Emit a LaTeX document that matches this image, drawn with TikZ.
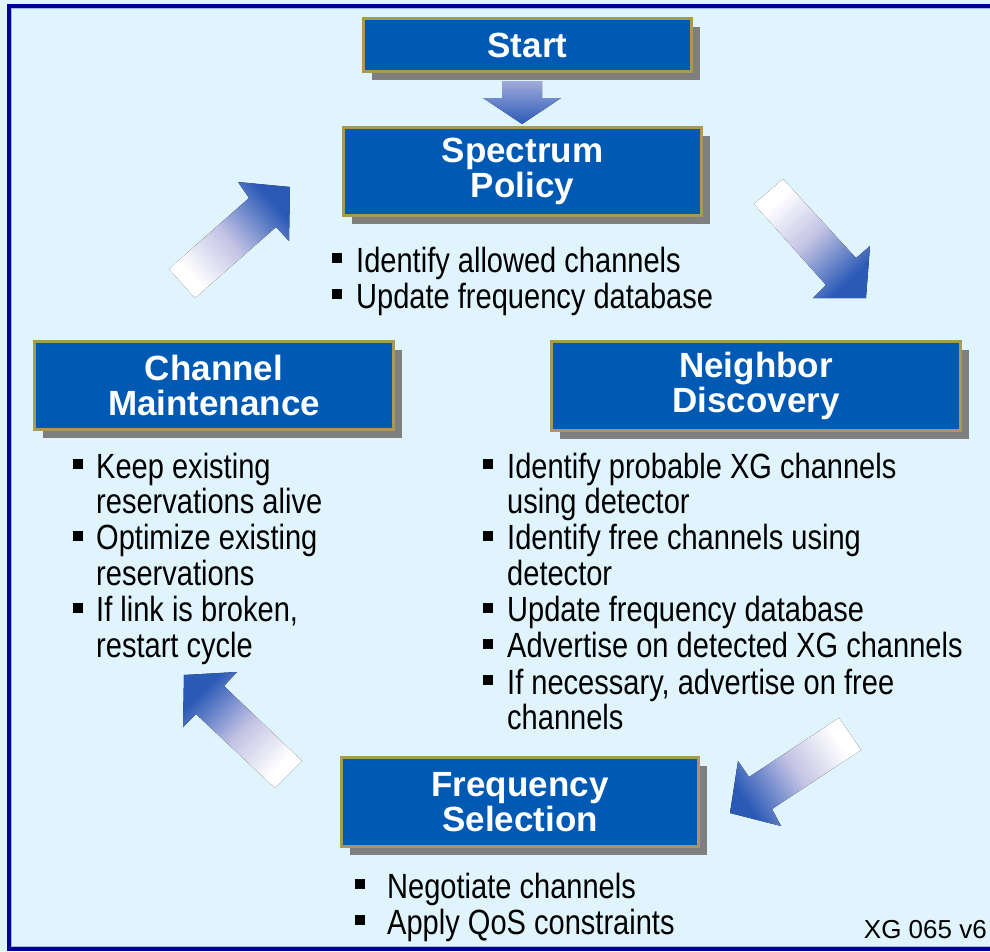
\documentclass[tikz,border=0pt]{standalone}
\usepackage{fontspec}
\setmainfont{Liberation Sans}
\newfontfamily\narrowfont{Liberation Sans}[FakeStretch=0.83]
\usetikzlibrary{shadows}
\definecolor{bgblue}{HTML}{E0F4FD}
\definecolor{framecol}{HTML}{000099}
\definecolor{frameline}{HTML}{9DB9E8}
\definecolor{boxblue}{HTML}{0059B2}
\definecolor{boxgold}{HTML}{A89A55}
\definecolor{shadowgray}{HTML}{7F7F7F}
\definecolor{arrowblue}{HTML}{2B5AB6}
\definecolor{arrowmid}{HTML}{C2C2E4}
\definecolor{arrowtop}{HTML}{A0AADA}
\pgfdeclarehorizontalshading{fatshade}{100bp}{color(0bp)=(white); color(28bp)=(white);
  color(50bp)=(arrowmid); color(74bp)=(arrowblue); color(100bp)=(arrowblue)}
\newcommand{\sqbul}{\raisebox{9pt}{\rule{10pt}{10pt}}}
\newcommand{\bgap}{\\[0.8pt]}

\begin{document}
\begin{tikzpicture}[x=1pt, y=-1pt,
  stage/.style={rectangle, draw=boxgold, line width=3pt, fill=boxblue, text=white,
    font=\fontsize{35}{35}\selectfont\bfseries, align=center, inner sep=0pt,
    drop shadow={shadow xshift=8pt, shadow yshift=-8pt, fill=shadowgray, opacity=1}},
  blist/.style={anchor=base west, inner sep=0pt, font=\narrowfont\fontsize{35}{33.8}\selectfont},
  fatarrow/.style={shading=fatshade}]
\clip (0,0) rectangle (990,951);
\fill[bgblue] (0,0) rectangle (990,951);
\draw[framecol, line width=4pt] (995,6) -- (9,6) -- (9,949) -- (995,949);
\draw[frameline, line width=1pt] (995,8.5) -- (11.5,8.5) -- (11.5,946.5) -- (995,946.5);

% stage boxes
\node[stage, minimum width=328pt, minimum height=53pt] (start) at (527.5,45) {Start};
\node[stage, minimum width=358pt, minimum height=88pt] (policy) at (522.5,171.5) {Spectrum\\Policy};
\node[stage, minimum width=359pt, minimum height=88pt] (maint) at (214,385.5) {Channel\\Maintenance};
\node[stage, minimum width=409pt, minimum height=89pt] (discov) at (756,386) {Neighbor\\Discovery};
\node[stage, minimum width=357pt, minimum height=89pt] (select) at (520,802) {Frequency\\Selection};

% bullet lists
\node[blist] (policyList) at (332,272) {\begin{tabular}[t]{@{}l@{\hspace{14pt}}l@{}}
  \sqbul & Identify allowed channels\bgap
  \sqbul & Update frequency database\end{tabular}};
\node[blist] (maintList) at (73,478) {\begin{tabular}[t]{@{}l@{\hspace{13pt}}l@{}}
  \sqbul & Keep existing\\ & reservations alive\bgap
  \sqbul & Optimize existing\\ & reservations\bgap
  \sqbul & If link is broken,\\ & restart cycle\end{tabular}};
\node[blist] (discovList) at (483,478) {\begin{tabular}[t]{@{}l@{\hspace{14pt}}l@{}}
  \sqbul & Identify probable XG channels\\ & using detector\bgap
  \sqbul & Identify free channels using\\ & detector\bgap
  \sqbul & Update frequency database\bgap
  \sqbul & Advertise on detected XG channels\bgap
  \sqbul & If necessary, advertise on free\\ & channels\end{tabular}};
\node[blist] (selectList) at (355,898) {\begin{tabular}[t]{@{}l@{\hspace{22pt}}l@{}}
  \sqbul & Negotiate channels\bgap
  \sqbul & Apply QoS constraints\end{tabular}};

\node[anchor=base east, inner sep=0pt, font=\fontsize{26}{26}\selectfont] (tag) at (987,938) {XG 065 v6};

% fat arrows
\fill[top color=arrowtop, bottom color=arrowblue] (502,81) -- (542,81) -- (542,98) -- (561,98)
  -- (522,124) -- (483,98) -- (502,98) -- cycle;
\fill[fatarrow, shading angle=42] (169,269) -- (249,198) -- (238,182) -- (290,187)
  -- (289,241) -- (276,227) -- (195,298) -- cycle;
\fill[fatarrow, shading angle=-47] (754,204) -- (783,179) -- (856,258) -- (870,246)
  -- (866,298) -- (813,298) -- (826,285) -- cycle;
\fill[fatarrow, shading angle=213] (839,718) -- (749,777) -- (738,761) -- (730,813)
  -- (781,826) -- (772,809) -- (861,750) -- cycle;
\fill[fatarrow, shading angle=136] (275,788) -- (196,714) -- (183,727) -- (184,675)
  -- (237,672) -- (224,686) -- (302,761) -- cycle;
\end{tikzpicture}
\end{document}
